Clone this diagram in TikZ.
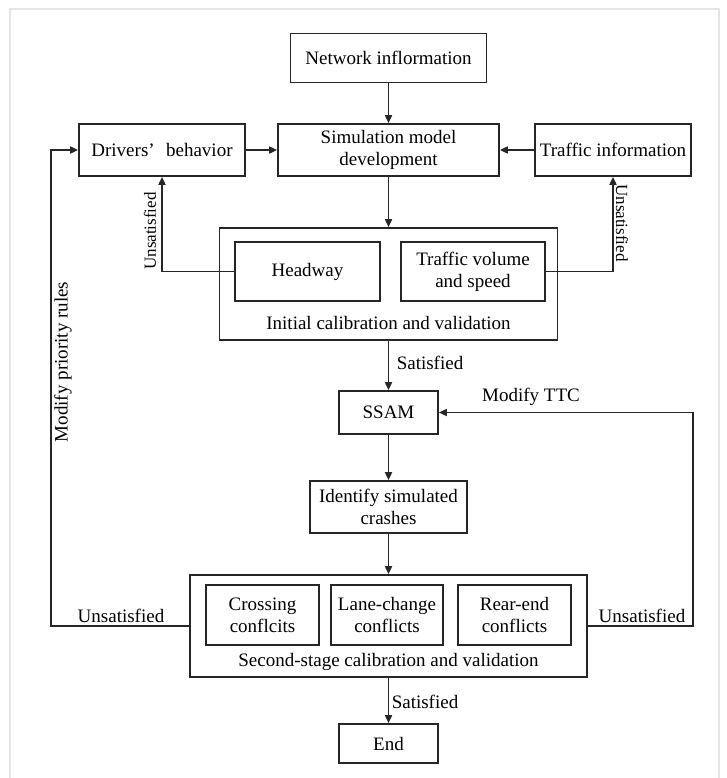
\documentclass[tikz,border=0pt]{standalone}
\usepackage{fontspec}
\setmainfont{Liberation Serif}
\usetikzlibrary{arrows.meta}

\begin{document}
\begin{tikzpicture}[x=1pt,y=-1pt,
		box/.style={draw=black!85, line width=1.7pt, inner sep=0pt, align=center, font=\fontsize{19}{22}\selectfont},
		flow/.style={draw=black!85, line width=1.7pt, -{Triangle[length=8pt,width=7pt]}},
		tag/.style={inner sep=0pt, font=\fontsize{19}{22}\selectfont},
		sidetag/.style={inner sep=0pt, font=\fontsize{17}{20}\selectfont}]
			\useasboundingbox (0,0) rectangle (727,778);
			\draw[gray!20, line width=1.5pt] (10,778) -- (10,9) -- (719,9) -- (719,778);
			% top row
			\node[box, minimum width=196pt, minimum height=49pt] (net) at (388.5,58) {Network inflormation};
			\node[box, minimum width=166pt, minimum height=52pt] (drv) at (162,150) {Drivers’\hspace{0.6em}behavior};
			\node[box, minimum width=221pt, minimum height=52pt] (sim) at (388.5,150) {Simulation model\\development};
			\node[box, minimum width=156pt, minimum height=52pt] (trf) at (613,150) {Traffic information};
			% initial calibration
			\node[box, minimum width=338pt, minimum height=112pt] (init) at (388.5,284) {};
			\node[box, minimum width=145pt, minimum height=59pt] (head) at (307.5,271.5) {Headway};
			\node[box, minimum width=144pt, minimum height=59pt] (vol) at (473,271.5) {Traffic volume\\and speed};
			\node[tag] (initlbl) at (388.5,323) {Initial calibration and validation};
			\node[box, minimum width=99pt, minimum height=43pt] (ssam) at (388.5,412.5) {SSAM};
			\node[box, minimum width=157pt, minimum height=52pt] (ident) at (388.5,507) {Identify simulated\\crashes};
			% second stage
			\node[box, minimum width=397pt, minimum height=102pt] (second) at (388.5,626) {};
			\node[box, minimum width=113pt, minimum height=60pt] (cross) at (262.5,615) {Crossing\\conflcits};
			\node[box, minimum width=112pt, minimum height=60pt] (lane) at (387,615) {Lane-change\\conflicts};
			\node[box, minimum width=113pt, minimum height=60pt] (rear) at (514.5,615) {Rear-end\\conflicts};
			\node[tag] (seclbl) at (388.5,662) {Second-stage calibration and validation};
			\node[box, minimum width=99pt, minimum height=39pt] (end) at (388.5,743.5) {End};
			\coordinate (lcor) at (51,626);
			\coordinate (rcor) at (693,626);
			% connectors
			\draw[flow] (net) -- (sim);
			\draw[flow] (drv) -- (sim);
			\draw[flow] (trf) -- (sim);
			\draw[flow] (sim) -- (init);
			\draw[flow] (head.west) -| (drv.south);
			\draw[flow] (vol.east) -| (trf.south);
			\draw[flow] (init) -- (ssam);
			\draw[flow] (ssam) -- (ident);
			\draw[flow] (ident) -- (second);
			\draw[flow] (second) -- (end);
			\draw[flow] (second.west) -- (lcor) |- (drv.west);
			\draw[flow] (second.east) -- (rcor) |- (ssam.east);
			% labels
			\node[sidetag, rotate=90] (uns1) at (150,231) {Unsatisfied};
			\node[sidetag, rotate=-90] (uns2) at (622,223) {Unsatisfied};
			\node[tag] (sat1) at (430,363) {Satisfied};
			\node[tag] (ttc) at (531,397) {Modify TTC};
			\node[tag] (sat2) at (425,702) {Satisfied};
			\node[tag] (uns3) at (121,616) {Unsatisfied};
			\node[tag] (uns4) at (642,616) {Unsatisfied};
			\node[tag, rotate=90] (prio) at (63,362) {Modify priority rules};
		\end{tikzpicture}
\end{document}
